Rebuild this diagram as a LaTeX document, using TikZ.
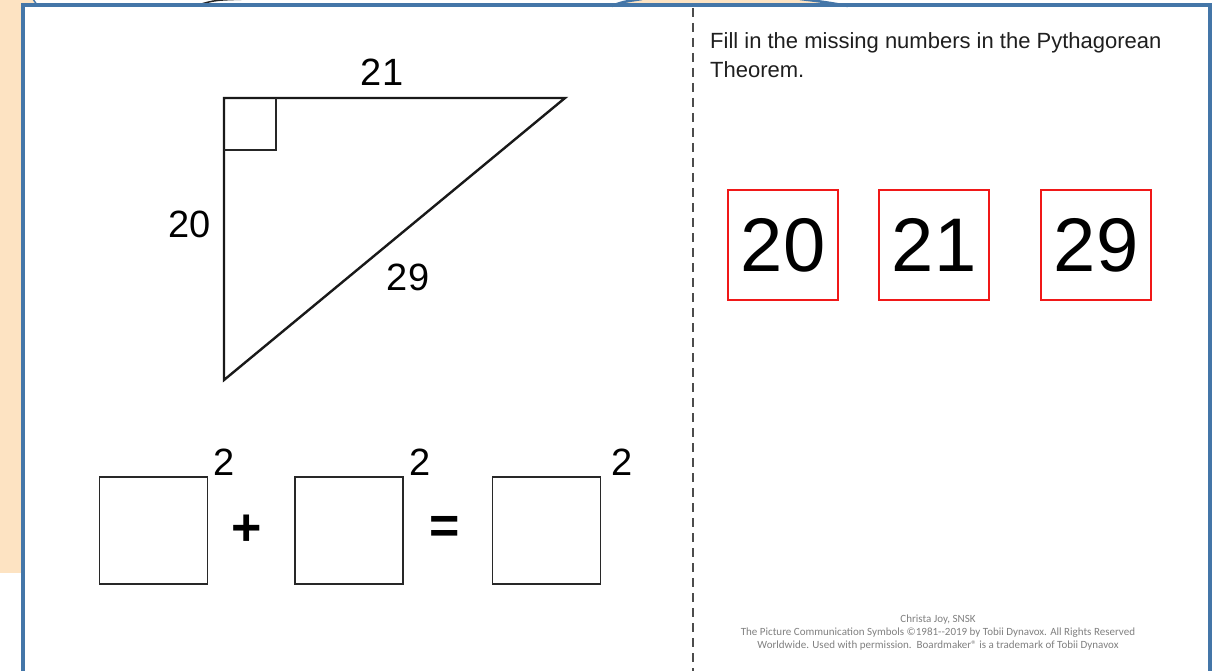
\documentclass[tikz,border=0pt]{standalone}
\usepackage{fontspec}
\setmainfont{Liberation Sans}
\newfontfamily\footfont{Carlito}
\definecolor{peach}{RGB}{253,227,194}
\definecolor{frameblue}{RGB}{68,118,168}
\definecolor{boxred}{RGB}{240,24,24}
\definecolor{inkgray}{RGB}{40,40,40}
\begin{document}
\begin{tikzpicture}[x=1pt,y=-1pt,
  label36/.style={inner sep=0pt,font=\fontsize{38}{40}\selectfont},
  opsym/.style={inner sep=0pt,font=\fontsize{52}{54}\selectfont\bfseries},
  eqbox/.style={draw=inkgray,line width=1.6pt,minimum width=108pt,minimum height=107pt,inner sep=0pt},
  numbox/.style={draw=boxred,line width=1.8pt,minimum width=110pt,minimum height=110pt,inner sep=0pt,font=\fontsize{76}{80}\selectfont},
  instr/.style={anchor=base west,inner sep=0pt,text=black!88,font=\fontsize{22}{26}\selectfont},
  foot/.style={inner sep=0pt,text=black!50,font=\footfont\fontsize{11}{12}\selectfont}]
\useasboundingbox (0,0) rectangle (1214,671);
\fill[white] (0,0) rectangle (1214,671);
% peach background pieces
\fill[peach] (0,0) rectangle (21,573);
\fill[peach] (0,0) rectangle (34,5);
\draw[frameblue,line width=1.5pt] (33,-1) -- (37,5);
\fill[peach] (612,6) .. controls (622,2) .. (642,-1) -- (800,-1) .. controls (825,2) .. (848,6) -- cycle;
\draw[frameblue,line width=2.5pt] (612,6) .. controls (622,2) .. (642,-1);
\draw[frameblue,line width=2.5pt] (800,-1) .. controls (825,2) .. (848,6);
\draw[black!85,line width=1.5pt] (198,5) .. controls (215,0) .. (250,-1);
% frame
\draw[frameblue,line width=4pt] (22.5,680) -- (22.5,5.5) -- (1210,5.5) -- (1210,680);
% dashed divider
\coordinate (dtop) at (693,8);
\coordinate (dbot) at (693,671);
\draw[black!70,line width=1.4pt,dash pattern=on 9pt off 6pt] (dtop) -- (dbot);
% triangle
\coordinate (A) at (224,98);
\coordinate (B) at (565,98);
\coordinate (C) at (224,380);
\draw[black!90,line width=2.4pt,line join=miter] (A) -- (B) -- (C) -- cycle;
\draw[black!85,line width=1.4pt] (224,150) -- (276,150) -- (276,98);
\node[label36] (l21) at (382,72) {21};
\node[label36] (l20) at (190,224) {20};
\node[label36] (l29) at (408,277) {29};
% equation
\node[eqbox] (b1) at (153.5,530.5) {};
\node[eqbox] (b2) at (349,530.5) {};
\node[eqbox] (b3) at (546.5,530.5) {};
\node[label36] (s1) at (224,462) {2};
\node[label36] (s2) at (420,462) {2};
\node[label36] (s3) at (622,462) {2};
\node[opsym] (plus) at (247,530) {+};
\node[opsym] (eq) at (445,530) {=};
% instructions
\node[instr] (t1) at (710,49) {Fill in the missing numbers in the Pythagorean};
\node[instr] (t2) at (710,78) {Theorem.};
% number cards
\node[numbox] (n20) at (783,245) {20};
\node[numbox] (n21) at (934,245) {21};
\node[numbox] (n29) at (1096,245) {29};
% footer
\node[foot] (f1) at (938,620) {Christa Joy, SNSK};
\node[foot] (f2) at (938,633) {The Picture Communication Symbols \textcopyright1981--2019 by Tobii Dynavox. All Rights Reserved};
\node[foot] (f3) at (938,646) {Worldwide. Used with permission.\ \ Boardmaker\textregistered\ is a trademark of Tobii Dynavox};
\end{tikzpicture}
\end{document}
